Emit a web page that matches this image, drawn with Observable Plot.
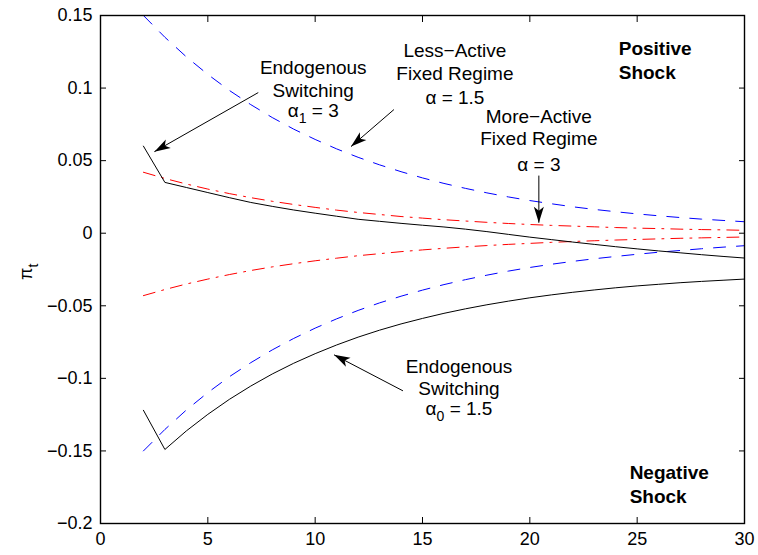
<!DOCTYPE html>
<html>
<head>
<meta charset="utf-8">
<script src="https://cdn.jsdelivr.net/npm/d3@7"></script>
<script src="https://cdn.jsdelivr.net/npm/@observablehq/plot@0.6"></script>
<style>
  body { margin: 0; background: #fff; }
</style>
</head>
<body>
<div id="chart"></div>
<script>
// ---- data ----
const periods = [2,3,4,5,6,7,8,9,10,11,12,13,14,15,16,17,18,19,20,21,22,23,24,25,26,27,28,29,30];

// Less-Active Fixed Regime (alpha = 1.5), positive / negative shock
const lessActivePos = [0.150,0.135,0.1215,0.1094,0.0984,0.0886,0.0797,0.0717,0.0646,0.0581,0.0523,0.0471,0.0424,0.0381,0.0343,0.0309,0.0278,0.0250,0.0225,0.0203,0.0182,0.0164,0.0148,0.0133,0.0120,0.0108,0.0097,0.0088,0.0079];
const lessActiveNeg = [-0.150,-0.1352,-0.1218,-0.1098,-0.0989,-0.0892,-0.0804,-0.0725,-0.0654,-0.0590,-0.0532,-0.0480,-0.0434,-0.0392,-0.0354,-0.0320,-0.0289,-0.0261,-0.0236,-0.0214,-0.0194,-0.0176,-0.0160,-0.0145,-0.0131,-0.0119,-0.0107,-0.0096,-0.0086];

// More-Active Fixed Regime (alpha = 3)
const moreActivePos = [0.042,0.0377,0.0339,0.0304,0.0273,0.0245,0.0220,0.0198,0.0178,0.0159,0.0143,0.0129,0.0115,0.0104,0.0093,0.0084,0.0075,0.0067,0.0060,0.0054,0.0049,0.0044,0.0039,0.0035,0.0032,0.0028,0.0025,0.0023,0.0020];
const moreActiveNeg = [-0.043,-0.0388,-0.0350,-0.0316,-0.0285,-0.0257,-0.0232,-0.0210,-0.0190,-0.0172,-0.0155,-0.0141,-0.0127,-0.0115,-0.0104,-0.0094,-0.0085,-0.0077,-0.0070,-0.0063,-0.0057,-0.0052,-0.0047,-0.0043,-0.0039,-0.0035,-0.0032,-0.0029,-0.0026];

// Endogenous switching
const endogenousPos = [0.060,0.035,0.0315,0.0280,0.0245,0.0212,0.0185,0.0160,0.0138,0.0117,0.0096,0.0082,0.0068,0.0055,0.0043,0.0028,0.0011,-0.0008,-0.0027,-0.0044,-0.0061,-0.0077,-0.0093,-0.0108,-0.0122,-0.0135,-0.0148,-0.0160,-0.0171];
const endogenousNeg = [-0.122,-0.149,-0.1362,-0.1248,-0.1145,-0.1053,-0.0970,-0.0896,-0.0830,-0.0770,-0.0716,-0.0668,-0.0625,-0.0587,-0.0552,-0.0521,-0.0493,-0.0468,-0.0445,-0.0425,-0.0407,-0.0391,-0.0376,-0.0363,-0.0352,-0.0341,-0.0332,-0.0324,-0.0316];

// axes
const xTicks = [0,5,10,15,20,25,30];
const xTickLabels = ["0","5","10","15","20","25","30"];
const yTicks = [-0.2,-0.15,-0.1,-0.05,0,0.05,0.1,0.15];
const yTickLabels = ["\u22120.2","\u22120.15","\u22120.1","\u22120.05","0","0.05","0.1","0.15"];
const yLabel = "\u03c0_t";

// annotations (data coordinates)
const noteText = ["Endogenous","Switching","\u03b1_1 = 3",
                  "Less\u2212Active","Fixed Regime","\u03b1 = 1.5",
                  "More\u2212Active","Fixed Regime","\u03b1 = 3",
                  "Endogenous","Switching","\u03b1_0 = 1.5"];
const noteX = [9.91,9.91,9.91, 16.51,16.51,16.51, 20.42,20.42,20.42, 16.70,16.70,16.70];
const noteY = [0.1141,0.0983,0.0840, 0.1259,0.1100,0.0934, 0.0803,0.0652,0.0472, -0.0921,-0.1072,-0.1212];

const shockText = ["Positive","Shock","Negative","Shock"];
const shockX = [24.14,24.14,24.65,24.65];
const shockY = [0.1272,0.1107,-0.1652,-0.1817];

const arrowX1 = [7.35,13.67,20.42,14.09];
const arrowY1 = [0.0969,0.0852,0.0397,-0.1086];
const arrowX2 = [2.51,11.67,20.42,10.88];
const arrowY2 = [0.0562,0.0597,0.0072,-0.0838];

// ---- build ----
const W = 758, H = 555, mL = 100, mR = 14, mT = 15, mB = 32;
const xDomain = [0, 30], yDomain = [-0.2, 0.15];

function seriesRows(vals) { return periods.map((t, i) => ({t, v: vals[i]})); }
const notes = noteText.map((s, i) => ({x: noteX[i], y: noteY[i], s}));
const shocks = shockText.map((s, i) => ({x: shockX[i], y: shockY[i], s}));
const arrows = arrowX1.map((_, i) => ({x1: arrowX1[i], y1: arrowY1[i], x2: arrowX2[i], y2: arrowY2[i]}));

// screen-space angle for arrowheads
const sx = d3.scaleLinear(xDomain, [mL, W - mR]);
const sy = d3.scaleLinear(yDomain, [H - mB, mT]);
function headSymbol(a) {
  const dx = sx(a.x2) - sx(a.x1), dy = sy(a.y2) - sy(a.y1);
  const L = Math.hypot(dx, dy), s = dx / L, c = -dy / L;
  const pts = [[0,0],[5,16],[0,12],[-5,16]].map(([px, py]) => [px * c - py * s, px * s + py * c]);
  return {draw(ctx) {
    ctx.moveTo(pts[0][0], pts[0][1]);
    for (let k = 1; k < pts.length; k++) ctx.lineTo(pts[k][0], pts[k][1]);
    ctx.closePath();
  }};
}

const lineStyle = (vals, color, dash) =>
  Plot.line(seriesRows(vals), {x: "t", y: "v", stroke: color, strokeWidth: 1, strokeDasharray: dash});

const fmt = (ticks, labels) => d => {
  const i = ticks.findIndex(v => Math.abs(v - d) < 1e-9);
  return i >= 0 ? labels[i] : "";
};

const marks = [
  lineStyle(lessActivePos, "#0000ff", "12,11"),
  lineStyle(lessActiveNeg, "#0000ff", "12,11"),
  lineStyle(moreActivePos, "#ff0000", "12,7,2,7"),
  lineStyle(moreActiveNeg, "#ff0000", "12,7,2,7"),
  lineStyle(endogenousPos, "black", null),
  lineStyle(endogenousNeg, "black", null),
  Plot.link(arrows, {x1: "x1", y1: "y1", x2: "x2", y2: "y2", stroke: "black", strokeWidth: 1}),
  ...arrows.map(a => Plot.dot([a], {x: "x2", y: "y2", symbol: headSymbol(a), fill: "black", stroke: "none"})),
  Plot.text(notes, {x: "x", y: "y", text: "s", fontSize: 19, fill: "black", textAnchor: "middle"}),
  Plot.text(shocks, {x: "x", y: "y", text: "s", fontSize: 19, fontWeight: "bold", fill: "black", textAnchor: "start"}),
  Plot.text([0], {frameAnchor: "left", dx: -80, text: () => yLabel, fontSize: 18, fill: "black"}),
  Plot.frame({stroke: "black", strokeWidth: 1.4}),
  Plot.axisX({anchor: "bottom", ticks: xTicks, tickSize: -6, tickPadding: 15, tickFormat: fmt(xTicks, xTickLabels), label: null, fontSize: 18}),
  Plot.axisX({anchor: "top", ticks: xTicks, tickSize: -6, tickFormat: () => "", label: null}),
  Plot.axisY({anchor: "left", ticks: yTicks, tickSize: -6, tickPadding: 14, tickFormat: fmt(yTicks, yTickLabels), label: null, fontSize: 18}),
  Plot.axisY({anchor: "right", ticks: yTicks, tickSize: -6, tickFormat: () => "", label: null})
];

const chart = Plot.plot({
  width: W, height: H,
  marginLeft: mL, marginRight: mR, marginTop: mT, marginBottom: mB,
  x: {domain: xDomain},
  y: {domain: yDomain},
  style: {fontFamily: "'Liberation Sans', Arial, Helvetica, sans-serif", fontSize: "18px", background: "white", color: "black"},
  marks
});

// subscripts: "a_b rest" -> a + lowered small b + rest
const NS = "http://www.w3.org/2000/svg";
let yLabelNode = null;
chart.querySelectorAll("text").forEach(t => {
  if (t.querySelector("tspan")) return;
  const s = t.textContent;
  const m = s.match(/^(.*?)_(.)(.*)$/);
  if (!m) return;
  if (s === yLabel) yLabelNode = t;
  t.textContent = "";
  const a = document.createElementNS(NS, "tspan"); a.textContent = m[1]; t.appendChild(a);
  const b = document.createElementNS(NS, "tspan"); b.textContent = m[2];
  b.setAttribute("dy", "6"); b.setAttribute("font-size", "14"); t.appendChild(b);
  if (m[3]) {
    const c = document.createElementNS(NS, "tspan"); c.textContent = m[3];
    c.setAttribute("dy", "-6"); t.appendChild(c);
  }
});

document.getElementById("chart").appendChild(chart);

// rotate the y-axis label to read bottom-to-top
if (yLabelNode) {
  const bb = yLabelNode.getBBox();
  const cx = bb.x + bb.width / 2, cy = bb.y + bb.height / 2;
  const prev = yLabelNode.getAttribute("transform") || "";
  yLabelNode.setAttribute("transform", `${prev} rotate(-90 ${cx} ${cy})`.trim());
}
</script>
</body>
</html>
